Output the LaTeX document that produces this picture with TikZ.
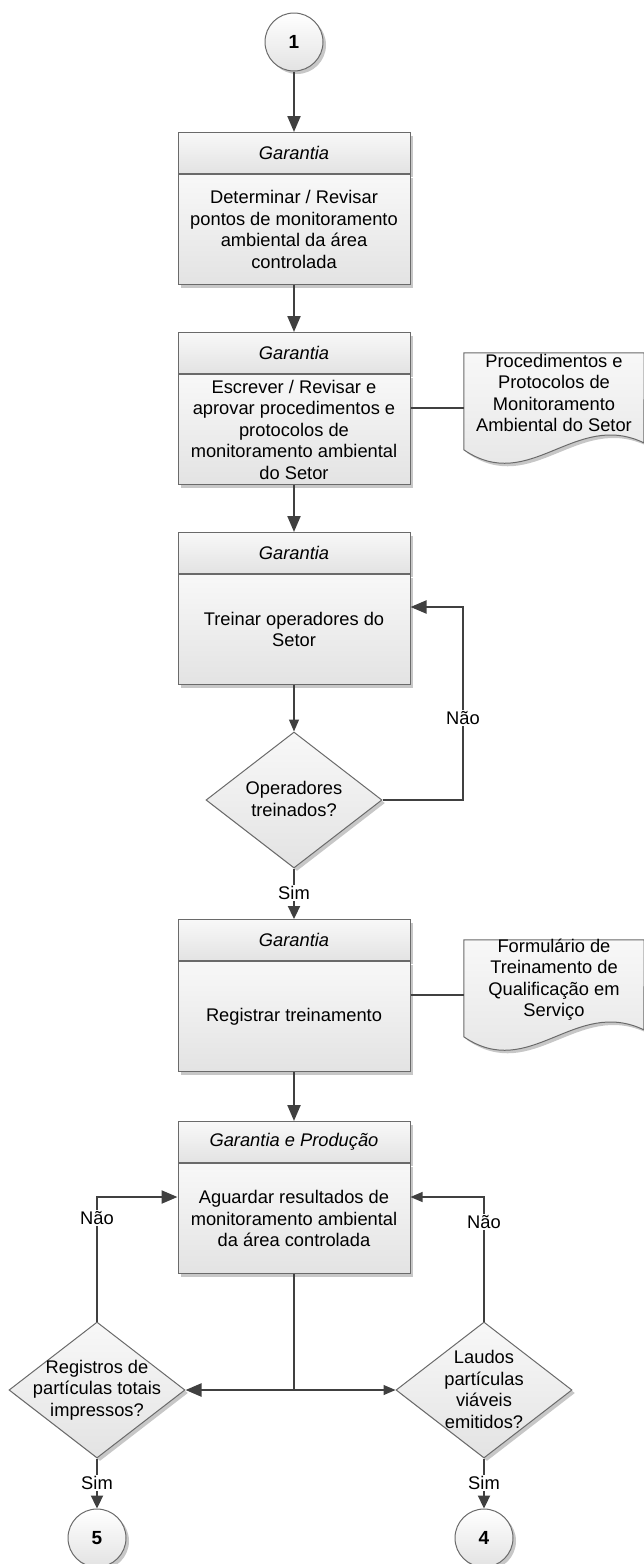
\documentclass[tikz,border=0pt]{standalone}
\usepackage{fontspec}
\setmainfont{Liberation Sans}
\usetikzlibrary{arrows.meta,shapes.geometric,shadows,calc}

\definecolor{linec}{HTML}{404040}
\definecolor{bordc}{HTML}{6A6A6A}
\definecolor{filltop}{HTML}{F8F8F8}
\definecolor{fillbot}{HTML}{E3E3E3}

\begin{document}
\begin{tikzpicture}[x=1pt,y=-1pt,
  font=\fontsize{18.3}{21.5}\selectfont,
  boxfill/.style={top color=filltop, bottom color=fillbot, draw=bordc, line width=1pt},
  softshadow/.style={drop shadow={shadow xshift=3pt, shadow yshift=-3pt, opacity=0.22, fill=black}},
  hdr/.style={boxfill, softshadow, minimum width=232pt, minimum height=41pt, inner sep=0pt,
    anchor=north, font=\fontsize{18.3}{21.5}\selectfont\itshape},
  body/.style={boxfill, softshadow, minimum width=232pt, minimum height=110pt, inner sep=2pt,
    anchor=north, align=center},
  decision/.style={diamond, boxfill, softshadow, minimum width=176pt, minimum height=136pt, inner sep=0pt},
  onpage/.style={circle, top color=white, bottom color=fillbot, draw=bordc, line width=1pt, softshadow,
    minimum size=58pt, inner sep=0pt, font=\fontsize{19}{22}\selectfont\bfseries},
  dtext/.style={align=center, inner sep=0pt},
  docarea/.style={minimum width=180pt, minimum height=110pt, inner sep=0pt},
  lbl/.style={fill=white, inner sep=1.5pt},
  thickline/.style={draw=linec, line width=2.2pt},
  thinline/.style={draw=linec, line width=1.2pt},
  bigarrow/.style={-{Triangle[length=16pt,width=13pt]}},
  midarrow/.style={-{Triangle[length=13pt,width=12pt]}},
  smallarrow/.style={-{Triangle[length=12pt,width=10pt]}}
]
\useasboundingbox (0,0) rectangle (643,1564);

% off-page connector at the top
\node[onpage] (c1) at (294,42) {1};

% process boxes: italic header band over the task text
\node[hdr] (b1h) at (294,132) {Garantia};
\node[body] (b1b) at (b1h.south) {Determinar / Revisar\\pontos de monitoramento\\ambiental da área\\controlada};

\node[hdr] (b2h) at (294,332) {Garantia};
\node[body] (b2b) at (b2h.south) {Escrever / Revisar e\\aprovar procedimentos e\\protocolos de\\monitoramento ambiental\\do Setor};

\node[hdr] (b3h) at (294,532) {Garantia};
\node[body] (b3b) at (b3h.south) {Treinar operadores do\\Setor};

\node[hdr] (b4h) at (294,919) {Garantia};
\node[body] (b4b) at (b4h.south) {Registrar treinamento};

\node[hdr] (b5h) at (294,1121) {Garantia e Produção};
\node[body] (b5b) at (b5h.south) {Aguardar resultados de\\monitoramento ambiental\\da área controlada};

% documents with a wavy lower edge
\node[docarea] (doc1) at (554,408) {};
\draw[boxfill, softshadow] (doc1.north west) -- (doc1.north east)
  -- ($(doc1.north west)+(180,90)$)
  .. controls ($(doc1.north west)+(111,57)$) and ($(doc1.north west)+(66,142)$) ..
  ($(doc1.north west)+(0,97)$) -- cycle;
\node[dtext] (doc1t) at (554,393) {Procedimentos e\\Protocolos de\\Monitoramento\\Ambiental do Setor};

\node[docarea] (doc2) at (554,995) {};
\draw[boxfill, softshadow] (doc2.north west) -- (doc2.north east)
  -- ($(doc2.north west)+(180,90)$)
  .. controls ($(doc2.north west)+(111,57)$) and ($(doc2.north west)+(66,142)$) ..
  ($(doc2.north west)+(0,97)$) -- cycle;
\node[dtext] (doc2t) at (554,979.5) {Formulário de\\Treinamento de\\Qualificação em\\Serviço};

% decisions
\node[decision] (d1) at (294,800) {};
\node[dtext] (d1t) at (294,799) {Operadores\\treinados?};

\node[decision] (dl) at (97,1390) {};
\node[dtext] (dlt) at (97,1390) {Registros de\\partículas totais\\impressos?};

\node[decision] (dr) at (484,1390) {};
\node[dtext] (drt) at (484,1389.5) {Laudos\\partículas\\viáveis\\emitidos?};

% connectors at the bottom
\node[onpage] (c5) at (97,1538) {5};
\node[onpage] (c4) at (484,1538) {4};

% bend points of the return loops
\coordinate (n1) at (463,607);
\coordinate (n2) at (97,1197);
\coordinate (n3) at (484,1197);

% flow
\draw[thickline, bigarrow] (c1.south) -- (b1h.north);
\draw[thickline, bigarrow] (b1b.south) -- (b2h.north);
\draw[thickline] (b2b.east |- doc1.west) -- (doc1.west);
\draw[thickline, bigarrow] (b2b.south) -- (b3h.north);
\draw[thinline, smallarrow] (b3b.south) -- (d1.north);
\draw[thickline, bigarrow] (d1.east) -| (n1) -- (n1 -| b3b.east);
\draw[thickline, midarrow] (d1.south) -- (b4h.north);
\draw[thickline] (b4b.east |- doc2.west) -- (doc2.west);
\draw[thickline, bigarrow] (b4b.south) -- (b5h.north);
\draw[thickline, bigarrow] (b5b.south) |- (dl.east);
\draw[thinline, smallarrow] (b5b.south |- dr.west) -- (dr.west);
\draw[thickline, bigarrow] (dl.north) -- (n2) -- (n2 -| b5b.west);
\draw[thinline, smallarrow] (dr.north) -- (n3) -- (n3 -| b5b.east);
\draw[thickline, midarrow] (dl.south) -- (c5.north);
\draw[thickline, midarrow] (dr.south) -- (c4.north);

% branch labels
\node[lbl] (l1) at (463,718) {Não};
\node[lbl] (l2) at (294,893) {Sim};
\node[lbl] (l3) at (97,1218) {Não};
\node[lbl] (l4) at (484,1222) {Não};
\node[lbl] (l5) at (97,1483) {Sim};
\node[lbl] (l6) at (484,1483) {Sim};
\end{tikzpicture}
\end{document}
